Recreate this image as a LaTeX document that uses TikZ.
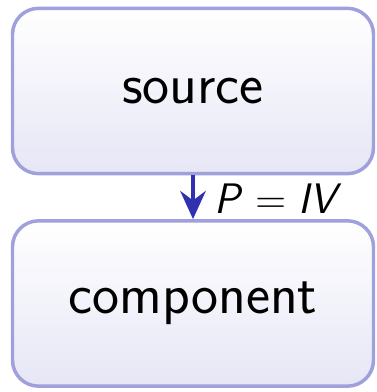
\documentclass[tikz,border=0pt]{standalone}
\usepackage{fontspec}
\usetikzlibrary{arrows.meta}
\definecolor{boxline}{RGB}{160,160,220}
\definecolor{boxfill}{RGB}{230,230,246}
\definecolor{flowarrow}{RGB}{48,48,176}
\tikzset{
    every node/.style={font=\sffamily\fontsize{43}{50}\selectfont},
    block/.style={rectangle, rounded corners=19.5pt, draw=boxline, line width=2.6pt,
        top color=white, bottom color=boxfill, minimum width=270.75pt, minimum height=124pt},
    flow/.style={-{Stealth[length=21pt, width=19pt, inset=7pt]}, draw=flowarrow, line width=3.5pt}
}

\begin{document}
\begin{tikzpicture}[x=0.75pt, y=0.75pt]
        \useasboundingbox (0,0) rectangle (376,392);
        \node (src) [block] at (193,301) {source};
        \node (comp) [block] at (193,88.5) {component};
        \draw (src) edge [flow] node (law) [right, xshift=11pt, yshift=-1pt, font=\sffamily\fontsize{32}{38}\selectfont]
                {\textit{P}\;=\;\textit{IV}} (comp);
\end{tikzpicture}
\end{document}
